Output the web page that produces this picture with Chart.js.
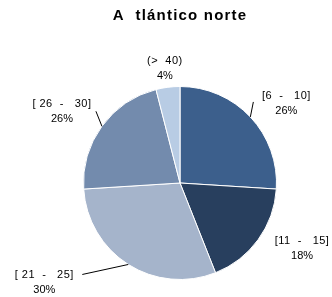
<!DOCTYPE html>
<html>
<head>
<meta charset="utf-8">
<script src="https://cdn.jsdelivr.net/npm/chart.js@4"></script>
<style>
  html, body { margin: 0; padding: 0; background: #fff; }
  #wrap { width: 332px; height: 297px; }
</style>
</head>
<body>
<div id="wrap"><canvas id="pieChart" width="332" height="297"></canvas></div>
<script>
const chartTitle = 'A  tlántico norte';
const categories = ['[6  -   10]', '[11  -   15]', '[ 21  -   25]', '[ 26  -   30]', '(>  40)'];
const shares = [26, 18, 30, 22, 4];                   // slice sizes
const pctLabels = ['26%', '18%', '30%', '26%', '4%']; // as printed on the picture
const sliceColors = ['#3c5f8c', '#283f5e', '#a5b4cb', '#738bad', '#b8cce4'];

// label placement relative to the outer middle of each slice
const labelOffsets = [[36, -14], [44, 8], [-84, 17], [-40, -15], [-3, -19]];
const leaderEnds = [[3, -15], null, [-46, 10], [-6, -15], null];

const pieLabels = {
    id: 'pieLabels',
    afterDatasetsDraw(chart) {
        const ctx = chart.ctx;
        ctx.save();
        ctx.font = 'bold 15px "Liberation Sans", Arial, sans-serif';
        ctx.letterSpacing = '1.2px';
        ctx.fillStyle = '#000';
        ctx.textAlign = 'center';
        ctx.textBaseline = 'alphabetic';
        ctx.fillText(chartTitle, 180, 19.5);

        ctx.textBaseline = 'middle';
        ctx.font = '11px "Liberation Sans", Arial, sans-serif';
        const meta = chart.getDatasetMeta(0);
        meta.data.forEach((arc, i) => {
            const p = arc.getProps(['x', 'y', 'startAngle', 'endAngle', 'outerRadius'], true);
            const mid = (p.startAngle + p.endAngle) / 2;
            const ex = p.x + Math.cos(mid) * p.outerRadius;
            const ey = p.y + Math.sin(mid) * p.outerRadius;
            const lx = ex + labelOffsets[i][0];
            const ly = ey + labelOffsets[i][1];
            ctx.letterSpacing = '0.5px';
            ctx.fillText(categories[i], lx, ly - 7);
            ctx.letterSpacing = '0px';
            ctx.fillText(pctLabels[i], lx, ly + 8);
            if (leaderEnds[i]) {
                ctx.beginPath();
                ctx.strokeStyle = '#000';
                ctx.lineWidth = 1;
                ctx.moveTo(ex, ey);
                ctx.lineTo(ex + leaderEnds[i][0], ey + leaderEnds[i][1]);
                ctx.stroke();
            }
        });
        ctx.restore();
    }
};

new Chart(document.getElementById('pieChart').getContext('2d'), {
    type: 'pie',
    data: {
        labels: categories,
        datasets: [{
            data: shares,
            backgroundColor: sliceColors,
            borderColor: '#ffffff',
            borderWidth: 1
        }]
    },
    options: {
        responsive: false,
        animation: false,
        layout: { padding: { left: 83, right: 55, top: 86, bottom: 17 } },
        plugins: {
            legend: { display: false },
            tooltip: { enabled: false },
            title: { display: false }
        }
    },
    plugins: [pieLabels]
});
</script>
</body>
</html>
